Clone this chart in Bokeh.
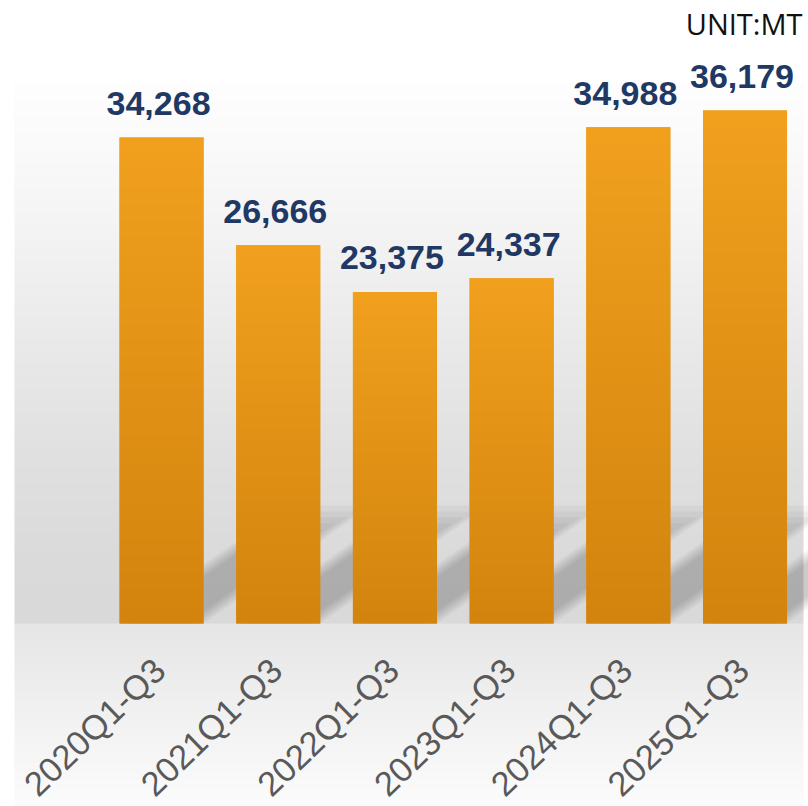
import numpy as np
from bokeh.plotting import figure
from bokeh.models import Range1d
from bokeh.core.properties import value
from bokeh.embed import file_html
from bokeh.resources import INLINE

# ---------------- data ----------------
categories = ["2020Q1-Q3", "2021Q1-Q3", "2022Q1-Q3", "2023Q1-Q3", "2024Q1-Q3", "2025Q1-Q3"]
volumes = [34268, 26666, 23375, 24337, 34988, 36179]
unit_label = "UNIT:MT"

# ---------------- layout / scales ----------------
W, H = 808, 806
X_START, X_END = -1.38, 5.544          # category index range across the canvas
Y_START, Y_END = -12905.0, 43930.0     # value range across the canvas (0 sits at 623px)
BAR_W = 0.72

def px_x(px):
    return X_START + px / W * (X_END - X_START)

def px_y(py):
    return Y_END - py / H * (Y_END - Y_START)

UX = W / (X_END - X_START)   # px per index unit
UY = H / (Y_END - Y_START)   # px per value unit

p = figure(width=W, height=H, x_range=Range1d(X_START, X_END), y_range=Range1d(Y_START, Y_END),
           toolbar_location=None, output_backend="svg", min_border=0,
           x_axis_location=None, y_axis_location=None)
p.grid.visible = False
p.outline_line_color = None
p.background_fill_color = "white"
p.border_fill_color = "white"

idx = list(range(len(categories)))

# ---------------- background gradient ----------------
top_px, bot_px, left_px, right_px = 83, 806, 14, 803
stops_py = [83, 150, 250, 350, 450, 550, 622.5, 623.5, 700, 806]
stops_g = [254, 250, 242, 233, 225, 219, 217, 230, 240, 252]
n_rows = bot_px - top_px
rows_py = bot_px - np.arange(n_rows) - 0.5
g = np.interp(rows_py, stops_py, stops_g).astype(np.uint8)
bg = np.zeros((n_rows, 2, 4), dtype=np.uint8)
bg[:, :, 0] = g[:, None]
bg[:, :, 1] = g[:, None]
bg[:, :, 2] = g[:, None]
bg[:, :, 3] = 255
bg32 = bg.view(np.uint32).reshape(n_rows, 2)
p.image_rgba(image=[bg32], x=px_x(left_px), y=px_y(bot_px),
             dw=px_x(right_px) - px_x(left_px), dh=px_y(top_px) - px_y(bot_px))

# ---------------- bar shadows (soft, layered) ----------------
DX_PX, DY_PX = 168.0, 118.0
for i in idx:
    for j in range(6):
        s = j * 3.5 / UX
        f = 1.0 - j * 0.05
        xl = i - BAR_W / 2 + s
        xr = i + BAR_W / 2 - s
        ddx = DX_PX * f / UX
        ddy = DY_PX * f / UY
        p.patch([xl, xr, xr + ddx, xl + ddx], [0, 0, ddy, ddy],
                fill_color="black", fill_alpha=0.036, line_color=None)

# ---------------- bars ----------------
p.vbar(x=idx, top=volumes, width=BAR_W, fill_color="#e2931a", line_color=None)
n_b = 256
t = np.linspace(0, 1, n_b)
c_bot = np.array([210, 132, 14])
c_top = np.array([241, 161, 30])
cols = (c_bot[None, :] * (1 - t[:, None]) + c_top[None, :] * t[:, None]).astype(np.uint8)
bar_img = np.zeros((n_b, 2, 4), dtype=np.uint8)
bar_img[:, :, :3] = cols[:, None, :]
bar_img[:, :, 3] = 255
bar32 = bar_img.view(np.uint32).reshape(n_b, 2)
p.image_rgba(image=[bar32] * len(idx), x=[i - BAR_W / 2 for i in idx], y=[0] * len(idx),
             dw=[BAR_W] * len(idx), dh=volumes)

# ---------------- value labels ----------------
labels = [f"{v:,}" for v in volumes]
p.text(x=idx, y=volumes, text=labels, text_align="center", text_baseline="alphabetic",
       x_offset=-3, y_offset=-34, text_font=value("Liberation Sans"), text_font_style="bold",
       text_font_size="34px", text_color="#1f3864")

# ---------------- category labels ----------------
p.text(x=idx, y=[0] * len(idx), text=categories, angle=np.radians(44), text_align="right",
       text_baseline="middle", x_offset=-2, y_offset=41, text_font=value("Liberation Sans"),
       text_font_size="34.5px", text_color="#595959")

# ---------------- unit ----------------
p.text(x=[px_x(802)], y=[px_y(23)], text=[unit_label], text_align="right",
       text_baseline="alphabetic", text_font=value("Open Sans"), text_font_size="29px",
       text_color="#111111")

open("out.html", "w").write(file_html(p, INLINE))
